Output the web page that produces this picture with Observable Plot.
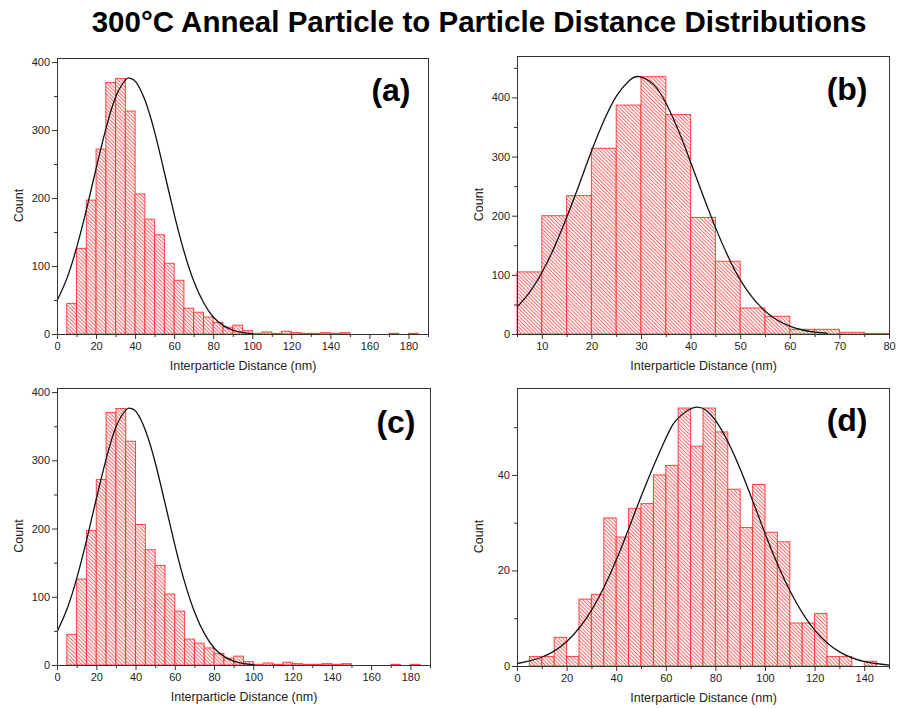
<!DOCTYPE html>
<html>
<head>
<meta charset="utf-8">
<script src="https://cdn.jsdelivr.net/npm/d3@7"></script>
<script src="https://cdn.jsdelivr.net/npm/@observablehq/plot@0.6"></script>
<style>
  html, body { margin: 0; padding: 0; background: #fff; }
  #page { position: relative; width: 897px; height: 708px; overflow: hidden; background: #fff;
          font-family: "Liberation Sans", Arial, sans-serif; }
  #title { position: absolute; top: 6.7px; left: 479px; transform: translateX(-50%); white-space: nowrap;
           font-size: 29.5px; line-height: 29.5px; font-weight: bold; color: #000; }
  .panel { position: absolute; }
</style>
</head>
<body>
<div id="page">
  <svg width="0" height="0" style="position:absolute">
    <defs>
      <pattern id="hatch" patternUnits="userSpaceOnUse" width="2.6" height="2.6" patternTransform="rotate(-45)">
        <rect width="2.6" height="2.6" fill="#ffffff"></rect>
        <line x1="0.5" y1="0" x2="0.5" y2="2.6" stroke="#ff5a5a" stroke-width="0.9"></line>
      </pattern>
    </defs>
  </svg>
  <div id="title">300°C Anneal Particle to Particle Distance Distributions</div>
</div>
<script>
// ---------- data ----------
const binWidth = 5;

// panel (a) and (c): same histogram
const binStartA = [5,10,15,20,25,30,35,40,45,50,55,60,65,70,75,80,85,90,95,100,105,110,115,120,125,130,135,140,145,170,180];
const countA    = [45,126,197,272,370,376,328,206,169,146,104,79,38,32,25,17,10,13,5,1,3,1,4,2,1,1,2,1,2,1,1];
const fitXA = [0,5,10,15,20,25,30,35,37,40,45,50,55,60,65,70,75,80,85,90,95,100];
const fitYA = [51,84,130,186,247,305,351,375,377,372,343,295,235,174,120,77,46,25,13,6.2,2.8,1.1];

// panel (b)
const binStartB = [5,10,15,20,25,30,35,40,45,50,55,60,65,70,75];
const countB    = [105,200,234,314,387,435,371,197,123,44,30,8,8,3,1];
const fitXB = [5,7.5,10,12.5,15,17.5,20,22.5,25,27.5,29.5,32.5,35,37.5,40,42.5,45,47.5,50,52.5,55,57.5,60,62.5,65,67.5];
const fitYB = [47,72,106,149,200,255,312,363,404,429,436,422,390,344,289,233,179,131,91,61,39,23.7,13.7,7.6,4.0,2.0];

// panel (d)
const binStartD = [5,10,15,20,25,30,35,40,45,50,55,60,65,70,75,80,85,90,95,100,105,110,115,120,125,130,140];
const countD    = [2,2,6,2,14,15,31,27,33,34,40,42,54,46,54,49,37,29,38,28,26,9,9,11,2,2,1];
const fitXD = [0,10,20,30,40,50,60,65,72,80,90,100,110,120,130,140,150];
const fitYD = [0.63,1.99,5.3,11.9,22.5,35.8,48.0,52.1,54.3,51.4,41.1,27.6,15.7,7.5,3.0,1.01,0.29];

// tick values
const xMajorA = [0,20,40,60,80,100,120,140,160,180];
const xMinorA = [10,30,50,70,90,110,130,150,170,190];
const yMajorA = [0,100,200,300,400];
const yMinorA = [50,150,250,350];
const xMajorB = [10,20,30,40,50,60,70,80];
const xMinorB = [5,15,25,35,45,55,65,75];
const yMajorB = [0,100,200,300,400];
const yMinorB = [50,150,250,350,450];
const xMajorD = [0,20,40,60,80,100,120,140];
const xMinorD = [10,30,50,70,90,110,130,150];
const yMajorD = [0,20,40];
const yMinorD = [10,30,50];

const panelLabels = ["(a)","(b)","(c)","(d)"];
const xLabel = "Interparticle Distance (nm)";
const yLabel = "Count";

// ---------- drawing ----------
function bars(starts, counts) {
  return starts.map((s, i) => ({x1: s, x2: s + binWidth, c: counts[i]}));
}
function pts(xs, ys) { return xs.map((x, i) => ({x, y: ys[i]})); }

function panel(cfg) {
  const ink = "#333";
  return Plot.plot({
    width: cfg.width, height: cfg.height,
    marginLeft: cfg.ml, marginRight: cfg.mr, marginTop: cfg.mt, marginBottom: cfg.mb,
    style: {fontFamily: '"Liberation Sans", Arial, sans-serif', fontSize: "11px", color: "#222", background: "transparent", overflow: "visible"},
    x: {domain: cfg.xDomain, label: null},
    y: {domain: cfg.yDomain, label: null},
    marks: [
      Plot.rect(bars(cfg.starts, cfg.counts), {x1: "x1", x2: "x2", y1: d => 0, y2: "c",
        fill: "url(#hatch)", stroke: "#ff2a2a", strokeWidth: 1, strokeOpacity: 0.85}),
      Plot.line(pts(cfg.fx, cfg.fy), {x: "x", y: "y", curve: "natural", stroke: "#111", strokeWidth: 1.3}),
      Plot.frame({stroke: ink, strokeWidth: 1}),
      Plot.axisX(cfg.xMajor, {tickSize: 5, tickPadding: 3, stroke: ink, label: null, fontSize: 11}),
      Plot.axisX(cfg.xMinor, {tickSize: 3, tickFormat: () => "", stroke: ink, label: null}),
      Plot.axisY(cfg.yMajor, {tickSize: 5, tickPadding: 2.5, stroke: ink, label: null, fontSize: 11}),
      Plot.axisY(cfg.yMinor, {tickSize: 3, tickFormat: () => "", stroke: ink, label: null}),
      Plot.text([cfg.tag], {text: d => d, frameAnchor: "top-right", textAnchor: "end", lineAnchor: "top",
        dx: cfg.tagDx, dy: cfg.tagDy, fontSize: 32, fontWeight: "bold", fill: "#000"}),
      Plot.text([xLabel], {text: d => d, frameAnchor: "bottom", lineAnchor: "middle", dy: 31.5, fontSize: 12.5, fill: "#222"}),
      Plot.text([yLabel], {text: d => d, frameAnchor: "left", rotate: -90, textAnchor: "middle", lineAnchor: "middle",
        dx: -38.7, dy: 9, fontSize: 12.5, fill: "#222"})
    ]
  });
}

const page = document.getElementById("page");
const cfgs = [
  {left: 0, top: 40, width: 448, height: 340, ml: 57, mr: 20, mt: 18, mb: 46,
   xDomain: [0,190], yDomain: [0,406], starts: binStartA, counts: countA, fx: fitXA, fy: fitYA,
   xMajor: xMajorA, xMinor: xMinorA, yMajor: yMajorA, yMinor: yMinorA, tag: panelLabels[0], tagDx: -18, tagDy: 20},
  {left: 448, top: 40, width: 449, height: 340, ml: 69, mr: 8, mt: 16, mb: 46,
   xDomain: [5,80], yDomain: [0,470], starts: binStartB, counts: countB, fx: fitXB, fy: fitYB,
   xMajor: xMajorB, xMinor: xMinorB, yMajor: yMajorB, yMinor: yMinorB, tag: panelLabels[1], tagDx: -22, tagDy: 21},
  {left: 0, top: 370, width: 448, height: 338, ml: 57, mr: 18, mt: 18, mb: 43,
   xDomain: [0,190], yDomain: [0,406], starts: binStartA, counts: countA, fx: fitXA, fy: fitYA,
   xMajor: xMajorA, xMinor: xMinorA, yMajor: yMajorA, yMinor: yMinorA, tag: panelLabels[2], tagDx: -15, tagDy: 22},
  {left: 448, top: 370, width: 449, height: 338, ml: 69, mr: 8, mt: 18, mb: 42,
   xDomain: [0,150], yDomain: [0,58.2], starts: binStartD, counts: countD, fx: fitXD, fy: fitYD,
   xMajor: xMajorD, xMinor: xMinorD, yMajor: yMajorD, yMinor: yMinorD, tag: panelLabels[3], tagDx: -22, tagDy: 20}
];
for (const c of cfgs) {
  const div = document.createElement("div");
  div.className = "panel";
  div.style.left = c.left + "px";
  div.style.top = c.top + "px";
  div.appendChild(panel(c));
  page.appendChild(div);
}
</script>
</body>
</html>
